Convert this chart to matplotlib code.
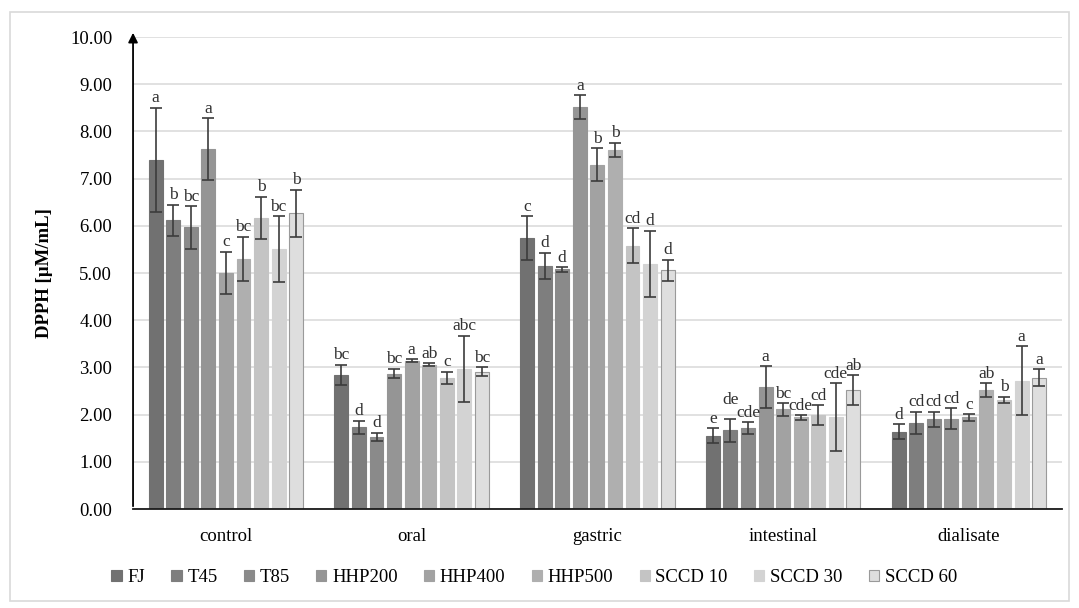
import matplotlib
matplotlib.use("Agg")
import matplotlib.pyplot as plt
import numpy as np
from matplotlib.patches import Rectangle

plt.rcParams['font.family'] = ['Liberation Serif', 'DejaVu Serif']

phases = ['control', 'oral', 'gastric', 'intestinal', 'dialisate']
samples = ['FJ', 'T45', 'T85', 'HHP200', 'HHP400', 'HHP500', 'SCCD 10', 'SCCD 30', 'SCCD 60']
colors = ['#717171', '#7e7e7e', '#8a8a8a', '#959595', '#a2a2a2', '#afafaf', '#c4c4c4', '#d3d3d3', '#dedede']

# values per sample, one entry per phase (control, oral, gastric, intestinal, dialisate)
FJ      = [7.40, 2.84, 5.74, 1.55, 1.64]
T45     = [6.12, 1.73, 5.15, 1.67, 1.83]
T85     = [5.97, 1.53, 5.08, 1.72, 1.90]
HHP200  = [7.63, 2.87, 8.52, 2.59, 1.91]
HHP400  = [5.00, 3.14, 7.30, 2.11, 1.94]
HHP500  = [5.30, 3.06, 7.61, 1.94, 2.52]
SCCD10  = [6.17, 2.78, 5.58, 1.99, 2.31]
SCCD30  = [5.51, 2.97, 5.20, 1.94, 2.72]
SCCD60  = [6.27, 2.91, 5.06, 2.52, 2.78]

FJ_err     = [1.10, 0.22, 0.46, 0.16, 0.16]
T45_err    = [0.33, 0.14, 0.28, 0.24, 0.23]
T85_err    = [0.45, 0.09, 0.05, 0.12, 0.16]
HHP200_err = [0.65, 0.10, 0.25, 0.44, 0.22]
HHP400_err = [0.45, 0.03, 0.34, 0.13, 0.07]
HHP500_err = [0.47, 0.03, 0.15, 0.05, 0.14]
SCCD10_err = [0.45, 0.13, 0.37, 0.21, 0.07]
SCCD30_err = [0.70, 0.70, 0.70, 0.72, 0.73]
SCCD60_err = [0.50, 0.10, 0.22, 0.32, 0.18]

FJ_let     = ['a', 'bc', 'c', 'e', 'd']
T45_let    = ['b', 'd', 'd', 'de', 'cd']
T85_let    = ['bc', 'd', 'd', 'cde', 'cd']
HHP200_let = ['a', 'bc', 'a', 'a', 'cd']
HHP400_let = ['c', 'a', 'b', 'bc', 'c']
HHP500_let = ['bc', 'ab', 'b', 'cde', 'ab']
SCCD10_let = ['b', 'c', 'cd', 'cd', 'b']
SCCD30_let = ['bc', 'abc', 'd', 'cde', 'a']
SCCD60_let = ['b', 'bc', 'd', 'ab', 'a']

values = [FJ, T45, T85, HHP200, HHP400, HHP500, SCCD10, SCCD30, SCCD60]
errors = [FJ_err, T45_err, T85_err, HHP200_err, HHP400_err, HHP500_err, SCCD10_err, SCCD30_err, SCCD60_err]
letters = [FJ_let, T45_let, T85_let, HHP200_let, HHP400_let, HHP500_let, SCCD10_let, SCCD30_let, SCCD60_let]

fig = plt.figure(figsize=(10.79, 6.08), dpi=100)
ax = fig.add_axes([0.1233, 0.1628, 0.8607, 0.7762])

x = np.arange(len(phases))
pitch = 0.0946
width = 0.075
for i, s in enumerate(samples):
    pos = x + (i - 4) * pitch
    ax.bar(pos, values[i], width, color=colors[i], edgecolor='#9a9a9a' if i == 8 else colors[i],
           linewidth=0.8, label=s, zorder=2)
    ax.errorbar(pos, values[i], yerr=errors[i], fmt='none', ecolor='#3c3c3c',
                elinewidth=1.2, capsize=4, capthick=1.2, zorder=3)
    for j in range(len(phases)):
        lift = 1
        # "de" over intestinal T45 sits higher in the original
        if i == 1 and j == 3:
            lift = 8
        ax.annotate(letters[i][j], (pos[j], values[i][j] + errors[i][j]),
                    xytext=(0, lift), textcoords='offset points', ha='center', va='bottom',
                    fontsize=12.5, color='#303030', zorder=4)

ax.set_xlim(-0.5, 4.5)
ax.set_ylim(0, 10)
ax.set_yticks(np.arange(0, 11, 1))
ax.set_yticklabels(['%.2f' % v for v in np.arange(0, 11, 1)], fontsize=13.5)
ax.set_xticks(x)
ax.set_xticklabels(phases, fontsize=13.5)
ax.tick_params(axis='x', length=0, pad=14)
ax.tick_params(axis='y', length=0, pad=15)
ax.grid(axis='y', color='#dcdcdc', linewidth=1.2, zorder=0)
ax.set_axisbelow(True)
for sp in ['top', 'right', 'left']:
    ax.spines[sp].set_visible(False)
ax.spines['bottom'].set_color('#1a1a1a')
ax.spines['bottom'].set_linewidth(1.3)
ax.annotate('', xy=(0, 1.015), xytext=(0, 0), xycoords='axes fraction',
            arrowprops=dict(arrowstyle='-|>', color='black', lw=1.3, mutation_scale=14))
ax.set_ylabel('DPPH [µM/mL]', fontsize=13.5, fontweight='bold', labelpad=12)

fig.legend(loc='center', bbox_to_anchor=(0.495, 0.05), ncol=9, frameon=False,
           fontsize=13.5, handlelength=0.55, handleheight=0.55, handletextpad=0.3,
           columnspacing=1.4)

fig.patches.append(Rectangle((0.009, 0.012), 0.982, 0.968, transform=fig.transFigure,
                             fill=False, edgecolor='#d9d9d9', linewidth=1.2))

fig.savefig('out.png', dpi=100)
